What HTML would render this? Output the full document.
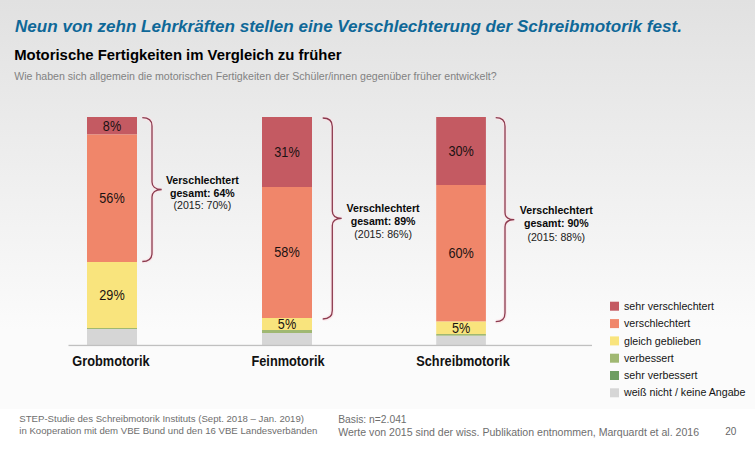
<!DOCTYPE html>
<html lang="de">
<head>
<meta charset="utf-8">
<title>Motorische Fertigkeiten im Vergleich zu früher</title>
<style>
html,body{margin:0;padding:0;width:755px;height:451px;overflow:hidden;background:#fff;}
svg{display:block;}
text{font-family:"Liberation Sans",Arial,sans-serif;}
.t{font-weight:bold;font-style:italic;fill:#0f6898;font-size:17.07px;}
.st{font-weight:bold;fill:#000;font-size:15.2px;}
.q{fill:#828282;font-size:10.3px;}
.bl{fill:#1a1212;font-size:13.9px;text-anchor:middle;}
.cat{font-weight:bold;fill:#111;font-size:13.9px;text-anchor:middle;}
.vb{font-weight:bold;fill:#0a0a0a;font-size:10.6px;text-anchor:middle;}
.vr{fill:#1a1a1a;font-size:10.6px;text-anchor:middle;}
.lg{fill:#141414;font-size:10.67px;}
.f1{fill:#6e6e6e;font-size:9.62px;}
.f2{fill:#6e6e6e;font-size:10.3px;}
.f3{fill:#6e6e6e;font-size:10.57px;}
.pn{fill:#666;font-size:10px;}
.br{fill:none;stroke:#8c3a4e;stroke-width:1.3;}
.brh{fill:none;stroke:#fbe4e8;stroke-width:4;opacity:0.7;}
</style>
</head>
<body>
<svg width="755" height="451" viewBox="0 0 755 451">
<defs>
<linearGradient id="bg" gradientUnits="userSpaceOnUse" x1="0" y1="0" x2="0" y2="409">
<stop offset="0" stop-color="#e1e1e1"/>
<stop offset="0.807" stop-color="#fbfbfb"/>
<stop offset="1" stop-color="#fbfbfb"/>
</linearGradient>
</defs>
<rect x="0" y="0" width="755" height="409" fill="url(#bg)"/>
<rect x="0" y="409" width="755" height="42" fill="#ffffff"/>

<!-- Headings -->
<text class="t" x="15" y="32.2">Neun von zehn Lehrkräften stellen eine Verschlechterung der Schreibmotorik fest.</text>
<text class="st" x="14.2" y="59.8" textLength="327.3" lengthAdjust="spacingAndGlyphs">Motorische Fertigkeiten im Vergleich zu früher</text>
<text class="q" x="14.2" y="79.9" textLength="482.5" lengthAdjust="spacingAndGlyphs">Wie haben sich allgemein die motorischen Fertigkeiten der Schüler/innen gegenüber früher entwickelt?</text>

<!-- Bar 1: Grobmotorik -->
<rect x="87" y="117" width="50" height="17.5" fill="#c45a62"/>
<rect x="87" y="134.5" width="50" height="127.5" fill="#f0866a"/>
<rect x="87" y="262" width="50" height="66" fill="#f9e47d"/>
<rect x="87" y="328" width="50" height="1" fill="#a0b872"/>
<rect x="87" y="329" width="50" height="16" fill="#d6d6d6"/>
<text class="bl" x="112" y="130.6" textLength="18.3" lengthAdjust="spacingAndGlyphs">8%</text>
<text class="bl" x="112" y="202.9" textLength="25.4" lengthAdjust="spacingAndGlyphs">56%</text>
<text class="bl" x="112" y="299.6" textLength="25.4" lengthAdjust="spacingAndGlyphs">29%</text>

<!-- Bar 2: Feinmotorik -->
<rect x="262" y="117" width="50" height="70" fill="#c45a62"/>
<rect x="262" y="187" width="50" height="131" fill="#f0866a"/>
<rect x="262" y="318" width="50" height="12" fill="#f9e47d"/>
<rect x="262" y="330" width="50" height="3" fill="#a0b872"/>
<rect x="262" y="333" width="50" height="12" fill="#d6d6d6"/>
<text class="bl" x="287" y="156.5" textLength="25.4" lengthAdjust="spacingAndGlyphs">31%</text>
<text class="bl" x="287" y="257" textLength="25.4" lengthAdjust="spacingAndGlyphs">58%</text>
<text class="bl" x="287" y="328.6" textLength="18.3" lengthAdjust="spacingAndGlyphs">5%</text>

<!-- Bar 3: Schreibmotorik -->
<rect x="436.2" y="117" width="49.7" height="68" fill="#c45a62"/>
<rect x="436.2" y="185" width="49.7" height="136.6" fill="#f0866a"/>
<rect x="436.2" y="321.6" width="49.7" height="12.4" fill="#f9e47d"/>
<rect x="436.2" y="334" width="49.7" height="1.8" fill="#a0b872"/>
<rect x="436.2" y="335.8" width="49.7" height="9.2" fill="#d6d6d6"/>
<text class="bl" x="461.1" y="155.5" textLength="25.4" lengthAdjust="spacingAndGlyphs">30%</text>
<text class="bl" x="461.1" y="257.8" textLength="25.4" lengthAdjust="spacingAndGlyphs">60%</text>
<text class="bl" x="461.1" y="332.6" textLength="18.3" lengthAdjust="spacingAndGlyphs">5%</text>

<!-- Axis -->
<rect x="68.5" y="344.8" width="523.5" height="1.3" fill="#c0c0c0"/>

<!-- Category labels -->
<text class="cat" x="111" y="365.9" textLength="77.3" lengthAdjust="spacingAndGlyphs">Grobmotorik</text>
<text class="cat" x="288" y="365.9" textLength="73.1" lengthAdjust="spacingAndGlyphs">Feinmotorik</text>
<text class="cat" x="463" y="365.9" textLength="93.5" lengthAdjust="spacingAndGlyphs">Schreibmotorik</text>

<!-- Braces -->
<path class="brh" d="M142.3,117.7 C148,117.7 152,120 152,126 L152,182 C152,186 155,189.5 161.7,189.5 C155,189.5 152,193 152,197 L152,253 C152,259 148,261.5 142.3,261.5"/>
<path class="br" d="M142.3,117.7 C148,117.7 152,120 152,126 L152,182 C152,186 155,189.5 161.7,189.5 C155,189.5 152,193 152,197 L152,253 C152,259 148,261.5 142.3,261.5"/>
<path class="brh" d="M322.7,118 C328.5,118 332.3,120.5 332.3,126.5 L332.3,211 C332.3,215 335,218.3 341.7,218.3 C335,218.3 332.3,221.6 332.3,225.6 L332.3,310.5 C332.3,316.5 328.5,319 322.7,319"/>
<path class="br" d="M322.7,118 C328.5,118 332.3,120.5 332.3,126.5 L332.3,211 C332.3,215 335,218.3 341.7,218.3 C335,218.3 332.3,221.6 332.3,225.6 L332.3,310.5 C332.3,316.5 328.5,319 322.7,319"/>
<path class="brh" d="M495.7,117.7 C501.5,117.7 505,120.2 505,126.2 L505,212.5 C505,216.5 507.8,219.7 514.3,219.7 C507.8,219.7 505,223 505,227 L505,313 C505,319 501.5,321.7 495.7,321.7"/>
<path class="br" d="M495.7,117.7 C501.5,117.7 505,120.2 505,126.2 L505,212.5 C505,216.5 507.8,219.7 514.3,219.7 C507.8,219.7 505,223 505,227 L505,313 C505,319 501.5,321.7 495.7,321.7"/>

<!-- Brace labels -->
<text class="vb" x="202.4" y="183.7">Verschlechtert</text>
<text class="vb" x="202.4" y="196.5">gesamt: 64%</text>
<text class="vr" x="202.4" y="209.1">(2015: 70%)</text>

<text class="vb" x="383.1" y="212.2">Verschlechtert</text>
<text class="vb" x="383.1" y="225.0">gesamt: 89%</text>
<text class="vr" x="383.1" y="237.6">(2015: 86%)</text>

<text class="vb" x="556.3" y="214.2">Verschlechtert</text>
<text class="vb" x="556.3" y="226.9">gesamt: 90%</text>
<text class="vr" x="556.3" y="240.5">(2015: 88%)</text>

<!-- Legend -->
<rect x="610" y="301.7" width="9" height="9" fill="#c45a62"/>
<rect x="610" y="319.1" width="9" height="9" fill="#f0866a"/>
<rect x="610" y="336.4" width="9" height="9" fill="#f9e47d"/>
<rect x="610" y="353.7" width="9" height="9" fill="#a0b872"/>
<rect x="610" y="371" width="9" height="9" fill="#6e9e62"/>
<rect x="610" y="388.3" width="9" height="9" fill="#d6d6d6"/>
<text class="lg" x="624" y="309.8">sehr verschlechtert</text>
<text class="lg" x="624" y="327.2">verschlechtert</text>
<text class="lg" x="624" y="344.5">gleich geblieben</text>
<text class="lg" x="624" y="361.8">verbessert</text>
<text class="lg" x="624" y="379.1">sehr verbessert</text>
<text class="lg" x="624" y="396.4">weiß nicht / keine Angabe</text>

<!-- Footer -->
<text class="f1" x="19.3" y="422">STEP-Studie des Schreibmotorik Instituts (Sept. 2018 – Jan. 2019)</text>
<text class="f1" x="19.3" y="433.9">in Kooperation mit dem VBE Bund und den 16 VBE Landesverbänden</text>
<text class="f2" x="338.2" y="422.6">Basis: n=2.041</text>
<text class="f3" x="338.2" y="435.6">Werte von 2015 sind der wiss. Publikation entnommen, Marquardt et al. 2016</text>
<text class="pn" x="725.2" y="434.8">20</text>
</svg>
</body>
</html>
